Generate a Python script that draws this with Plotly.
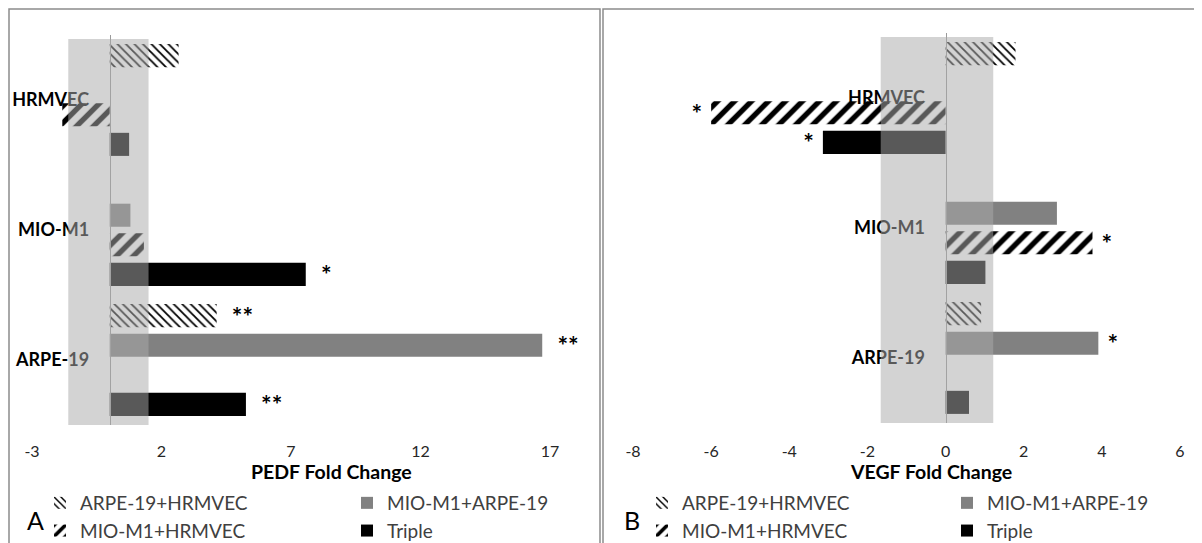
import plotly.graph_objects as go

# ---------------- data ----------------
categories = ["HRMVEC", "MIO-M1", "ARPE-19"]
series_names = ["ARPE-19+HRMVEC", "MIO-M1+ARPE-19", "MIO-M1+HRMVEC", "Triple"]

pedf_arpe_hrmvec = [2.66, None, 4.13]
pedf_mio_arpe = [None, 0.80, 16.7]
pedf_mio_hrmvec = [-1.83, 1.32, None]
pedf_triple = [0.75, 7.57, 5.26]

pedf_sig_arpe_hrmvec = ["", "", "**"]
pedf_sig_mio_arpe = ["", "", "**"]
pedf_sig_mio_hrmvec = ["", "", ""]
pedf_sig_triple = ["", "*", "**"]

vegf_arpe_hrmvec = [1.79, None, 0.91]
vegf_mio_arpe = [None, 2.85, 3.91]
vegf_mio_hrmvec = [-6.0, 3.76, None]
vegf_triple = [-3.14, 1.02, 0.60]

vegf_sig_arpe_hrmvec = ["", "", ""]
vegf_sig_mio_arpe = ["", "", "*"]
vegf_sig_mio_hrmvec = ["*", "*", ""]
vegf_sig_triple = ["*", "", ""]

pedf_band = [-1.6, 1.5]
vegf_band = [-1.66, 1.22]

pedf_ticks = [-3, 2, 7, 12, 17]
vegf_ticks = [-8, -6, -4, -2, 0, 2, 4, 6]

# ---------------- layout constants ----------------
# the page body has an 8px default margin, so the figure is offset by it
OX, OY = 8, 8
W, H = 1202 - OX, 543 - OY
FONT = "Lato"

def px_x(p):
    return (p - OX) / W

def px_y(p):
    return 1 - (p - OY) / H

dom_xa = [px_x(32), px_x(550)]
dom_xb = [px_x(633), px_x(1180)]
dom_ya = [px_y(425), px_y(35)]
dom_yb = [px_y(423), px_y(33)]
range_a = [pedf_ticks[0], pedf_ticks[-1]]
range_b = [vegf_ticks[0], vegf_ticks[-1]]

def zero_pos(dom, rng):
    return dom[0] + (0 - rng[0]) / (rng[1] - rng[0]) * (dom[1] - dom[0])

styles = {
    "ARPE-19+HRMVEC": dict(color="white", pattern=dict(shape="\\", size=6, solidity=0.3,
                                                       fgcolor="black", bgcolor="white", fillmode="replace")),
    "MIO-M1+ARPE-19": dict(color="#818181"),
    "MIO-M1+HRMVEC": dict(color="white", pattern=dict(shape="/", size=12, solidity=0.45,
                                                      fgcolor="black", bgcolor="white", fillmode="replace")),
    "Triple": dict(color="black"),
}

fig = go.Figure()

panels = [
    ("x", "y", [pedf_arpe_hrmvec, pedf_mio_arpe, pedf_mio_hrmvec, pedf_triple],
     [pedf_sig_arpe_hrmvec, pedf_sig_mio_arpe, pedf_sig_mio_hrmvec, pedf_sig_triple],
     ["legend", "legend2", "legend", "legend2"], "\u00a0\u00a0"),
    ("x2", "y2", [vegf_arpe_hrmvec, vegf_mio_arpe, vegf_mio_hrmvec, vegf_triple],
     [vegf_sig_arpe_hrmvec, vegf_sig_mio_arpe, vegf_sig_mio_hrmvec, vegf_sig_triple],
     ["legend3", "legend4", "legend3", "legend4"], "\u00a0"),
]

for xa, ya, vals, sigs, legs, pad in panels:
    for name, v, s, lg in zip(series_names, vals, sigs, legs):
        txt = []
        for val, t in zip(v, s):
            if not t or val is None:
                txt.append("")
            elif val < 0:
                txt.append(t + pad)
            else:
                txt.append(pad + t)
        st = styles[name]
        marker = dict(color=st["color"], line=dict(width=0))
        if "pattern" in st:
            marker["pattern"] = st["pattern"]
        fig.add_trace(go.Bar(
            x=v, y=categories, orientation="h", name=name, marker=marker,
            text=txt, textposition="outside", constraintext="none", cliponaxis=False,
            textfont=dict(family=FONT, size=25, color="black", weight="bold"),
            xaxis=xa, yaxis=ya, legend=lg, hoverinfo="skip",
        ))

axis_common = dict(showgrid=False, zeroline=False, ticks="", showline=False)

fig.update_layout(
    width=W, height=H,
    margin=dict(l=0, r=0, t=0, b=0, autoexpand=False),
    paper_bgcolor="white", plot_bgcolor="rgba(0,0,0,0)",
    barmode="group", bargap=0.09, bargroupgap=0.22,
    font=dict(family=FONT, color="#404040"),
    xaxis=dict(domain=dom_xa, range=range_a, tickvals=pedf_ticks,
               ticktext=[str(t) for t in pedf_ticks], anchor="y",
               tickfont=dict(size=16, color="#262626"), ticklabelstandoff=15, **axis_common),
    xaxis2=dict(domain=dom_xb, range=range_b, tickvals=vegf_ticks,
                ticktext=[str(t) for t in vegf_ticks], anchor="y2",
                tickfont=dict(size=16, color="#262626"), ticklabelstandoff=17, **axis_common),
    yaxis=dict(domain=dom_ya, range=[2.5, -0.5], anchor="free",
               position=zero_pos(dom_xa, range_a), showgrid=False, zeroline=False, ticks="",
               showline=True, linecolor="#9a9a9a", linewidth=1,
               tickfont=dict(size=18, color="black", weight="bold"), ticklabelstandoff=17),
    yaxis2=dict(domain=dom_yb, range=[2.5, -0.5], anchor="free",
                position=zero_pos(dom_xb, range_b), showgrid=False, zeroline=False, ticks="",
                showline=True, linecolor="#9a9a9a", linewidth=1,
                tickfont=dict(size=18, color="black", weight="bold"), ticklabelstandoff=17),
)

leg_common = dict(orientation="v", xanchor="left", yanchor="top", bgcolor="rgba(0,0,0,0)",
                  font=dict(family=FONT, size=19, color="#404040"), borderwidth=0)
leg_top = px_y(484)
fig.update_layout(
    legend=dict(x=px_x(40), y=leg_top, **leg_common),
    legend2=dict(x=px_x(347), y=leg_top, **leg_common),
    legend3=dict(x=px_x(642), y=leg_top, **leg_common),
    legend4=dict(x=px_x(947), y=leg_top, **leg_common),
)

# grey bands (semi-transparent overlay)
for xr, yr, band in [("x", "y domain", pedf_band), ("x2", "y2 domain", vegf_band)]:
    fig.add_shape(type="rect", xref=xr, yref=yr, x0=band[0], x1=band[1], y0=0, y1=0.99,
                  fillcolor="rgba(171,171,171,0.52)", line=dict(width=0), layer="above")

# panel borders
for x0, x1 in [(9, 600), (603, 1215)]:
    fig.add_shape(type="rect", xref="paper", yref="paper",
                  x0=px_x(x0), x1=px_x(x1), y0=px_y(570), y1=px_y(9),
                  line=dict(color="#8c8c8c", width=1.5), fillcolor="rgba(0,0,0,0)", layer="below")

# axis titles & panel letters
for txt, xc in [("PEDF Fold Change", 331), ("VEGF Fold Change", 931)]:
    fig.add_annotation(text=txt, xref="paper", yref="paper", x=px_x(xc), y=px_y(471),
                       showarrow=False, xanchor="center", yanchor="middle",
                       font=dict(family=FONT, size=19.5, color="black", weight="bold"))
for txt, xc in [("A", 35), ("B", 632)]:
    fig.add_annotation(text=txt, xref="paper", yref="paper", x=px_x(xc), y=px_y(520),
                       showarrow=False, xanchor="center", yanchor="middle",
                       font=dict(family=FONT, size=25, color="black"))

fig.write_html("out.html")
